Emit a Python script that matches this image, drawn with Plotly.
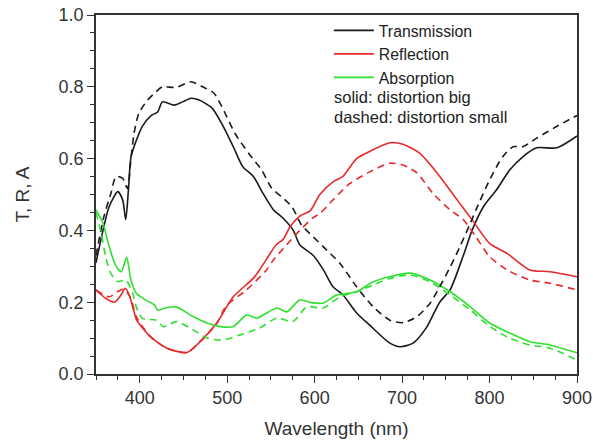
import plotly.graph_objects as go

# Transmission, solid (distortion big)
wl_T_big = [350, 358, 365, 375, 380.5, 384, 387, 390, 396, 403, 413, 420.5, 426, 439.5, 449, 458.6, 468, 483,
            495.6, 507, 518, 530, 541, 553, 564, 575.6, 583, 598.5, 610, 621, 632.5, 648, 663, 686, 698, 712.5,
            728, 743, 755, 770, 780, 793, 808, 823, 838, 854, 877, 900]
T_big = [0.31, 0.40, 0.466, 0.508, 0.485, 0.43, 0.51, 0.605, 0.65, 0.69, 0.72, 0.73, 0.758, 0.749, 0.758, 0.768,
         0.763, 0.74, 0.689, 0.633, 0.577, 0.55, 0.503, 0.457, 0.434, 0.40, 0.36, 0.33, 0.29, 0.243, 0.22, 0.17,
         0.136, 0.086, 0.076, 0.086, 0.13, 0.20, 0.235, 0.33, 0.40, 0.466, 0.513, 0.568, 0.605, 0.63, 0.63, 0.663]

# Transmission, dashed (distortion small)
wl_T_small = [350, 359, 367, 373, 380.5, 386, 390, 393.5, 399, 409, 418.6, 426, 441.5, 458.6, 472, 485, 499.5,
              509, 526, 539.5, 551, 562, 574, 585, 598.5, 610, 629, 648, 667, 686, 701, 717, 732, 743, 755, 766,
              778, 785, 800, 815, 827, 838, 854, 877, 900]
T_small = [0.33, 0.438, 0.503, 0.55, 0.545, 0.517, 0.60, 0.67, 0.726, 0.763, 0.786, 0.80, 0.798, 0.814, 0.80,
           0.782, 0.717, 0.67, 0.61, 0.568, 0.517, 0.494, 0.466, 0.415, 0.382, 0.354, 0.308, 0.243, 0.187, 0.15,
           0.143, 0.16, 0.197, 0.243, 0.298, 0.354, 0.42, 0.46, 0.54, 0.605, 0.633, 0.633, 0.657, 0.69, 0.72]

# Reflection, solid
wl_R_big = [350, 361, 371, 378.6, 383.5, 388, 394, 396.5, 412, 431, 454, 469, 488, 507, 530, 537, 545, 556, 564,
            572, 583, 595, 606, 621, 632, 648, 663, 686, 701, 720, 740, 763, 780, 800, 820, 846, 869, 900]
R_big = [0.234, 0.211, 0.20, 0.22, 0.239, 0.22, 0.169, 0.15, 0.104, 0.072, 0.06, 0.09, 0.142, 0.215, 0.267, 0.29,
         0.32, 0.36, 0.375, 0.41, 0.44, 0.455, 0.50, 0.535, 0.55, 0.60, 0.62, 0.644, 0.64, 0.615, 0.56, 0.485,
         0.43, 0.364, 0.336, 0.29, 0.285, 0.271]

# Reflection, dashed
wl_R_small = [350, 365, 376.6, 382, 390, 396, 412, 431, 454, 469, 488, 499, 522, 545, 553, 568, 583, 598, 606,
              621, 640, 663, 686, 701, 717, 735, 755, 770, 785, 800, 820, 846, 869, 900]
R_small = [0.234, 0.215, 0.232, 0.236, 0.21, 0.16, 0.105, 0.072, 0.06, 0.09, 0.14, 0.19, 0.234, 0.29, 0.318, 0.36,
           0.40, 0.435, 0.447, 0.485, 0.53, 0.563, 0.587, 0.582, 0.56, 0.504, 0.457, 0.43, 0.38, 0.327, 0.29, 0.262,
           0.253, 0.234]

# Absorption, solid
wl_A_big = [350, 358, 365, 373, 379, 385, 390, 396, 407, 417, 420.5, 428, 441.5, 461, 477, 492, 507, 522, 534,
            557, 568, 583, 598, 610, 625, 648, 667, 686, 709, 732, 755, 778, 800, 823, 846, 869, 900]
A_big = [0.457, 0.42, 0.355, 0.30, 0.285, 0.325, 0.262, 0.225, 0.206, 0.192, 0.178, 0.183, 0.187, 0.16, 0.142,
         0.132, 0.132, 0.164, 0.156, 0.184, 0.173, 0.206, 0.198, 0.198, 0.22, 0.229, 0.257, 0.271, 0.281, 0.262,
         0.229, 0.187, 0.142, 0.114, 0.09, 0.081, 0.059]

# Absorption, dashed
wl_A_small = [350, 356, 361, 367, 375, 384, 392, 396, 403, 419, 427, 442, 461, 477, 495, 515, 537, 557, 575, 591,
              610, 629, 648, 667, 686, 709, 732, 755, 778, 800, 823, 846, 869, 900]
A_small = [0.45, 0.392, 0.327, 0.28, 0.257, 0.262, 0.225, 0.187, 0.155, 0.15, 0.132, 0.146, 0.123, 0.10, 0.095,
           0.109, 0.128, 0.156, 0.146, 0.187, 0.184, 0.215, 0.229, 0.248, 0.266, 0.276, 0.257, 0.22, 0.178, 0.133,
           0.10, 0.081, 0.072, 0.039]

BLACK = "#1a1a1a"
RED = "#e8282a"
GREEN = "#2fe02f"
FONT = "Liberation Sans, Arial, sans-serif"
DASH = "7px,5px"
LW = 1.6

fig = go.Figure()
fig.add_trace(go.Scatter(x=wl_T_big, y=T_big, mode="lines", name="Transmission",
                         line=dict(color=BLACK, width=LW, shape="spline", smoothing=0.7)))
fig.add_trace(go.Scatter(x=wl_R_big, y=R_big, mode="lines", name="Reflection",
                         line=dict(color=RED, width=LW, shape="spline", smoothing=0.7)))
fig.add_trace(go.Scatter(x=wl_A_big, y=A_big, mode="lines", name="Absorption",
                         line=dict(color=GREEN, width=LW, shape="spline", smoothing=0.7)))
fig.add_trace(go.Scatter(x=wl_T_small, y=T_small, mode="lines", showlegend=False,
                         line=dict(color=BLACK, width=LW, dash=DASH, shape="spline", smoothing=0.7)))
fig.add_trace(go.Scatter(x=wl_R_small, y=R_small, mode="lines", showlegend=False,
                         line=dict(color=RED, width=LW, dash=DASH, shape="spline", smoothing=0.7)))
fig.add_trace(go.Scatter(x=wl_A_small, y=A_small, mode="lines", showlegend=False,
                         line=dict(color=GREEN, width=LW, dash=DASH, shape="spline", smoothing=0.7)))

axis_common = dict(showgrid=False, zeroline=False, showline=True, linecolor="#333", linewidth=1.6,
                   mirror=True, ticks="outside", ticklen=7, tickwidth=1.4, tickcolor="#333",
                   automargin=False,
                   tickfont=dict(family=FONT, size=18, color="#333"))

fig.update_xaxes(range=[350, 900], tick0=400, dtick=100, title=dict(text="Wavelength (nm)",
                 font=dict(family=FONT, size=19, color="#333"), standoff=14),
                 minor=dict(ticks="outside", ticklen=4, tickwidth=1.2, tickcolor="#333", dtick=25, tick0=350),
                 **axis_common)
fig.update_yaxes(range=[0, 1.0], dtick=0.2, tickformat=".1f", title=dict(text="T, R, A",
                 font=dict(family=FONT, size=19, color="#333"), standoff=24),
                 minor=dict(ticks="outside", ticklen=4, tickwidth=1.2, tickcolor="#333", dtick=0.05),
                 **axis_common)

fig.update_layout(
    width=593, height=443,
    margin=dict(l=96, r=16, t=15, b=69),
    plot_bgcolor="white", paper_bgcolor="white",
    showlegend=True,
    legend=dict(x=0.484, y=1.004, xanchor="left", yanchor="top", bgcolor="rgba(0,0,0,0)",
                borderwidth=0, itemwidth=40, tracegroupgap=0,
                font=dict(family=FONT, size=15.8, color="#222")),
    annotations=[
        dict(text="solid: distortion big", x=0.491, y=0.772, xref="paper", yref="paper",
             xanchor="left", yanchor="middle", showarrow=False,
             font=dict(family=FONT, size=16.5, color="#222")),
        dict(text="dashed: distortion small", x=0.491, y=0.716, xref="paper", yref="paper",
             xanchor="left", yanchor="middle", showarrow=False,
             font=dict(family=FONT, size=16.5, color="#222")),
    ],
)

fig.write_html("out.html")
